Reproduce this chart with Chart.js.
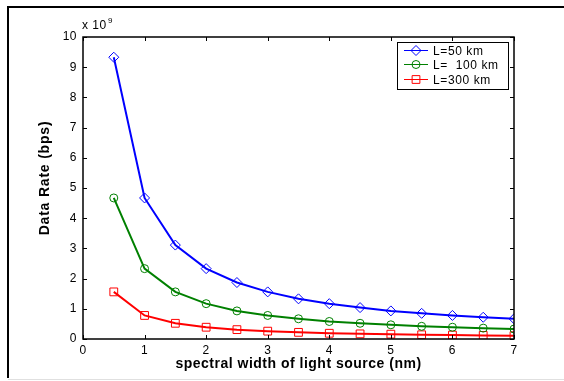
<!DOCTYPE html>
<html>
<head>
<meta charset="utf-8">
<script src="https://cdn.jsdelivr.net/npm/chart.js@4.4.0/dist/chart.umd.min.js"></script>
<style>
  html, body { margin: 0; padding: 0; background: #fff; }
  #wrap { width: 564px; height: 381px; position: relative; }
</style>
</head>
<body>
<div id="wrap"><canvas id="myChart" width="564" height="381"></canvas></div>
<script>
// spectral width (nm)
const widths = [0.5, 1, 1.5, 2, 2.5, 3, 3.5, 4, 4.5, 5, 5.5, 6, 6.5, 7];
// data rate in units of 1e9 bps
const rate50 = [9.33, 4.67, 3.11, 2.33, 1.87, 1.56, 1.33, 1.17, 1.04, 0.93, 0.85, 0.78, 0.72, 0.67];
const rate100 = [4.67, 2.33, 1.56, 1.17, 0.93, 0.78, 0.67, 0.58, 0.52, 0.47, 0.42, 0.39, 0.36, 0.33];
const rate300 = [1.56, 0.78, 0.52, 0.39, 0.31, 0.26, 0.22, 0.19, 0.17, 0.16, 0.14, 0.13, 0.12, 0.11];
const seriesLabels = ['L=50 km', 'L=  100 km', 'L=300 km'];
const xTicks = [0, 1, 2, 3, 4, 5, 6, 7];
const yTicks = [0, 1, 2, 3, 4, 5, 6, 7, 8, 9, 10];

const FONT = '"Liberation Sans", Arial, sans-serif';
const toPoints = (vals) => widths.map((w, i) => ({ x: w, y: vals[i] }));

const styles = [
    { color: '#0000ff', pointStyle: 'rectRot', radius: 5 },
    { color: '#008000', pointStyle: 'circle', radius: 4 },
    { color: '#ff0000', pointStyle: 'rect', radius: 5.5 }
];

const makeSet = (label, vals, st) => ({
    label: label,
    data: toPoints(vals),
    borderColor: st.color,
    backgroundColor: 'rgba(0,0,0,0)',
    borderWidth: 2,
    pointStyle: st.pointStyle,
    pointRadius: st.radius,
    pointBorderWidth: 1,
    pointBorderColor: st.color,
    pointBackgroundColor: 'rgba(0,0,0,0)',
    tension: 0,
    fill: false
});

// a little letter spacing, like the original print
const spacing = {
    id: 'spacing',
    beforeDraw(chart) { chart.ctx.letterSpacing = '0.5px'; }
};

// frame, box, inward ticks, multiplier, y title and legend
const decorations = {
    id: 'decorations',
    afterDraw(chart) {
        const ctx = chart.ctx;
        const a = chart.chartArea;
        const xs = chart.scales.x, ys = chart.scales.y;
        ctx.save();

        // outer figure frame
        ctx.strokeStyle = '#000';
        ctx.lineWidth = 2;
        ctx.beginPath();
        ctx.moveTo(8, 378);
        ctx.lineTo(8, 7);
        ctx.lineTo(564, 7);
        ctx.stroke();
        ctx.strokeStyle = '#e0e0e0';
        ctx.lineWidth = 1;
        ctx.beginPath();
        ctx.moveTo(8, 379.5);
        ctx.lineTo(564, 379.5);
        ctx.stroke();

        // axes box
        ctx.strokeStyle = '#000';
        ctx.lineWidth = 1.5;
        ctx.strokeRect(a.left, a.top, a.right - a.left, a.bottom - a.top);

        // inward ticks
        ctx.lineWidth = 1;
        ctx.beginPath();
        xTicks.forEach(v => {
            const px = Math.round(xs.getPixelForValue(v)) + 0.5;
            ctx.moveTo(px, a.bottom); ctx.lineTo(px, a.bottom - 4);
            ctx.moveTo(px, a.top); ctx.lineTo(px, a.top + 4);
        });
        yTicks.forEach(v => {
            const py = Math.round(ys.getPixelForValue(v)) + 0.5;
            ctx.moveTo(a.left, py); ctx.lineTo(a.left + 4, py);
            ctx.moveTo(a.right, py); ctx.lineTo(a.right - 4, py);
        });
        ctx.stroke();

        // x 10^9
        ctx.fillStyle = '#000';
        ctx.letterSpacing = '0.5px';
        ctx.font = '12px ' + FONT;
        ctx.textBaseline = 'alphabetic';
        ctx.textAlign = 'left';
        ctx.fillText('x 10', a.left - 1, 29);
        ctx.font = '8px ' + FONT;
        ctx.fillText('9', a.left + 25, 23);

        // y axis title
        ctx.save();
        ctx.translate(45, 178);
        ctx.rotate(-Math.PI / 2);
        ctx.font = 'bold 14px ' + FONT;
        ctx.letterSpacing = '0.8px';
        ctx.textAlign = 'center';
        ctx.textBaseline = 'middle';
        ctx.fillText('Data Rate (bps)', 0, 0);
        ctx.restore();

        // legend
        const lx = 397, ly = 42, lw = 111, lh = 47;
        ctx.fillStyle = '#fff';
        ctx.fillRect(lx, ly, lw, lh);
        ctx.strokeStyle = '#000';
        ctx.lineWidth = 1;
        ctx.strokeRect(lx + 0.5, ly + 0.5, lw, lh);
        ctx.font = '12px ' + FONT;
        ctx.letterSpacing = '0.6px';
        ctx.textAlign = 'left';
        ctx.textBaseline = 'middle';
        const rowY = [50.5, 64.5, 79.5];
        styles.forEach((st, i) => {
            const y = rowY[i];
            ctx.strokeStyle = st.color;
            ctx.lineWidth = 1;
            ctx.beginPath();
            ctx.moveTo(lx + 7, y);
            ctx.lineTo(lx + 31, y);
            ctx.stroke();
            ctx.fillStyle = 'rgba(0,0,0,0)';
            ctx.strokeStyle = st.color;
            Chart.helpers.drawPoint(ctx, {
                pointStyle: st.pointStyle,
                radius: st.radius,
                borderWidth: 1,
                rotation: 0
            }, lx + 19, y);
            ctx.fillStyle = '#000';
            ctx.fillText(seriesLabels[i], lx + 36, y + 1);
        });
        ctx.restore();
    }
};

const ctx = document.getElementById('myChart').getContext('2d');
new Chart(ctx, {
    type: 'line',
    data: {
        datasets: [
            makeSet(seriesLabels[0], rate50, styles[0]),
            makeSet(seriesLabels[1], rate100, styles[1]),
            makeSet(seriesLabels[2], rate300, styles[2])
        ]
    },
    options: {
        responsive: false,
        animation: false,
        layout: { padding: { left: 33, right: 50, top: 37, bottom: 8 } },
        plugins: {
            legend: { display: false },
            tooltip: { enabled: false }
        },
        scales: {
            x: {
                type: 'linear',
                min: 0,
                max: 7,
                afterFit: (s) => { s.height = 34; },
                afterBuildTicks: (s) => { s.ticks = xTicks.map(v => ({ value: v })); },
                grid: { display: false, drawTicks: false },
                border: { display: false },
                ticks: {
                    padding: 4,
                    color: '#000',
                    font: { family: FONT, size: 12 },
                    maxRotation: 0
                },
                title: {
                    display: true,
                    text: 'spectral width of light source (nm)',
                    color: '#000',
                    padding: 0,
                    font: { family: FONT, size: 14, weight: 'bold' }
                }
            },
            y: {
                type: 'linear',
                min: 0,
                max: 10,
                afterFit: (s) => { s.width = 50; },
                afterBuildTicks: (s) => { s.ticks = yTicks.map(v => ({ value: v })); },
                grid: { display: false, drawTicks: false },
                border: { display: false },
                ticks: {
                    padding: 6,
                    color: '#000',
                    font: { family: FONT, size: 12 }
                }
            }
        }
    },
    plugins: [spacing, decorations]
});
</script>
</body>
</html>
